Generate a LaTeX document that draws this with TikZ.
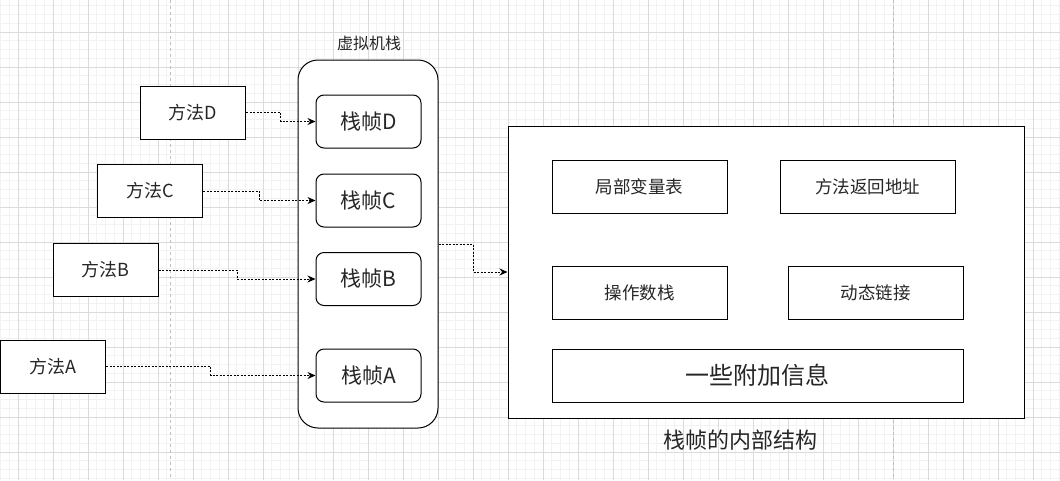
\documentclass[tikz,border=0pt]{standalone}
\usepackage{fontspec}
\setmainfont{Noto Sans CJK SC}
\usetikzlibrary{arrows.meta,positioning,calc}

\begin{document}
\begin{tikzpicture}[
  x=1pt, y=-1pt,
  every node/.style={inner sep=0pt, text=black!85},
  method/.style={draw, fill=white, line width=1pt, minimum width=105pt,
  minimum height=53pt, font=\fontsize{18}{20}\selectfont},
  frame/.style={draw, fill=white, line width=1pt, rounded corners=8pt,
  minimum width=105pt, minimum height=53pt, font=\fontsize{21}{23}\selectfont},
  part/.style={draw, fill=white, line width=1pt, minimum width=175pt,
  minimum height=53pt, font=\fontsize{17.5}{19}\selectfont},
  link/.style={-{Stealth[length=8pt,width=7pt]}, line width=1pt,
  dash pattern=on 2pt off 1.5pt}
]
  \useasboundingbox (0,0) rectangle (1060,480);
  \fill[white] (0,0) rectangle (1060,480);
  % grid
  \foreach \gx in {0.5,9.25,...,1060} \draw[black!5, line width=0.8pt] (\gx,0) -- (\gx,480);
  \foreach \gy in {5.75,14.5,...,480} \draw[black!5, line width=0.8pt] (0,\gy) -- (1060,\gy);
  \foreach \gx in {18,53,...,1060} \draw[black!14, line width=0.8pt] (\gx,0) -- (\gx,480);
  \foreach \gy in {32,67,...,480} \draw[black!14, line width=0.8pt] (0,\gy) -- (1060,\gy);
  \draw[black!25, line width=1pt, dashed] (170,0) -- (170,480);
  \draw[black!25, line width=1pt, dashed] (893,0) -- (893,480);

  % java stack
  \node[draw, fill=white, line width=1pt, rounded corners=20pt,
  minimum width=140pt, minimum height=368pt] (stack) at (368,244) {};
  \node[font=\fontsize{16}{18}\selectfont] (stacklbl) at (369,43) {虚拟机栈};
  \node[frame] (fD) at (368.5,121.5) {栈帧D};
  \node[frame] (fC) at (368.5,200.5) {栈帧C};
  \node[frame] (fB) at (368.5,279) {栈帧B};
  \node[frame] (fA) at (368.5,375.5) {栈帧A};

  % methods
  \node[method] (mD) at (193,112.5) {方法D};
  \node[method] (mC) at (150,191) {方法C};
  \node[method] (mB) at (105.5,270) {方法B};
  \node[method] (mA) at (53,366.5) {方法A};

  % frame structure
  \node[draw, fill=white, line width=1pt, minimum width=516pt,
  minimum height=292pt] (inner) at (766,272) {};
  \node[font=\fontsize{22}{24}\selectfont] (innerlbl) at (740,440) {栈帧的内部结构};
  \node[part] (locals) at (639.5,186.5) {局部变量表};
  \node[part] (ret) at (867.5,186.5) {方法返回地址};
  \node[part] (ops) at (639.5,292.5) {操作数栈};
  \node[part] (dyn) at (875.5,292.5) {动态链接};
  \node[part, minimum width=411pt, font=\fontsize{24}{26}\selectfont] (extra) at (757.5,375.5) {一些附加信息};

  \foreach \m/\f in {mD/fD, mC/fC, mB/fB, mA/fA}
    \draw[link] (\m.east) -| ($(\m.east)!.5!(\f.west)$) |- (\f.west);
  \draw[link] (stack.east) -| ($(stack.east)!.5!(inner.west)$) |- (inner.west);
\end{tikzpicture}
\end{document}
